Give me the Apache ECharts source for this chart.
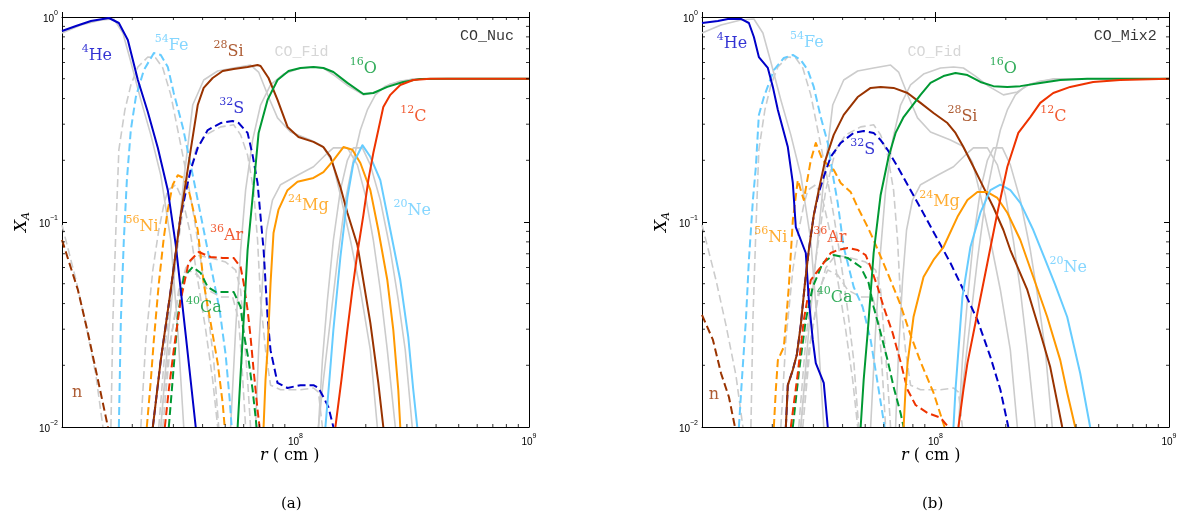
<!DOCTYPE html>
<html><head><meta charset="utf-8">
<script src="https://cdn.jsdelivr.net/npm/echarts@6/dist/echarts.min.js"></script>
<style>html,body{margin:0;padding:0;background:#fff}#c{width:1181px;height:517px}</style>
</head><body><div id="c"></div><script>
// ---------- DATA: [r (cm), X_A] ----------
// Panel (a) CO_Nuc
const He_a = [[1.0e7,0.855],[1.148e7,0.904],[1.33e7,0.956],[1.588e7,0.989],[1.752e7,0.935],[1.914e7,0.772],[2.113e7,0.493],[2.331e7,0.344],[2.572e7,0.23],[2.839e7,0.143],[3.07e7,0.0773],[3.388e7,0.0281],[3.738e7,0.01]];
const Fe_a = [[1.752e7,0.01],[1.787e7,0.0333],[1.84e7,0.0817],[1.896e7,0.16],[1.971e7,0.281],[2.071e7,0.407],[2.242e7,0.551],[2.474e7,0.667],[2.649e7,0.653],[2.839e7,0.57],[3.01e7,0.426],[3.289e7,0.291],[3.558e7,0.19],[3.813e7,0.128],[4.124e7,0.0817],[4.418e7,0.0551],[4.733e7,0.0372],[5.022e7,0.0225],[5.226e7,0.0136],[5.327e7,0.01]];
const Ni_a = [[2.308e7,0.01],[2.402e7,0.017],[2.474e7,0.0266],[2.599e7,0.0504],[2.731e7,0.0845],[2.839e7,0.115],[2.981e7,0.152],[3.132e7,0.169],[3.322e7,0.164],[3.49e7,0.143],[3.813e7,0.0914],[4.044e7,0.0504],[4.332e7,0.0322],[4.642e7,0.0205],[4.876e7,0.0131],[4.974e7,0.01]];
const Si_a = [[2.449e7,0.01],[2.649e7,0.0212],[2.923e7,0.0466],[3.225e7,0.108],[3.558e7,0.225],[3.813e7,0.372],[4.044e7,0.451],[4.418e7,0.504],[4.876e7,0.545],[5.434e7,0.558],[6.235e7,0.57],[6.879e7,0.583],[7.087e7,0.577],[7.666e7,0.504],[8.375e7,0.394],[9.244e7,0.291],[1.03e8,0.26],[1.194e8,0.246],[1.317e8,0.232],[1.411e8,0.208],[1.557e8,0.148],[1.668e8,0.111],[1.841e8,0.0773],[2.092e8,0.0322],[2.263e8,0.0164],[2.377e8,0.01]];
const S_a = [[2.449e7,0.01],[2.649e7,0.0212],[2.923e7,0.0466],[3.225e7,0.108],[3.558e7,0.18],[3.813e7,0.23],[4.208e7,0.281],[4.78e7,0.304],[5.38e7,0.311],[5.71e7,0.304],[6.235e7,0.272],[6.55e7,0.212],[6.879e7,0.155],[7.087e7,0.106],[7.302e7,0.073],[7.591e7,0.0344],[7.817e7,0.0237],[8.375e7,0.0164],[9.244e7,0.0155],[1.05e8,0.016],[1.194e8,0.016],[1.254e8,0.0155],[1.317e8,0.014],[1.384e8,0.0125],[1.453e8,0.01]];
const Ar_a = [[2.757e7,0.01],[2.867e7,0.0152],[3.01e7,0.0237],[3.225e7,0.0417],[3.49e7,0.0638],[3.851e7,0.0714],[4.332e7,0.0675],[4.876e7,0.0668],[5.434e7,0.0668],[5.82e7,0.0603],[5.998e7,0.0504],[6.235e7,0.0372],[6.42e7,0.0275],[6.614e7,0.019],[6.879e7,0.0121],[7.017e7,0.01]];
const Ca_a = [[2.867e7,0.01],[3.132e7,0.0344],[3.322e7,0.0539],[3.63e7,0.0603],[3.926e7,0.0564],[4.208e7,0.0482],[4.551e7,0.0456],[4.925e7,0.0456],[5.434e7,0.0456],[5.82e7,0.0385],[5.998e7,0.0288],[6.298e7,0.0212],[6.55e7,0.0152],[6.745e7,0.0112],[6.812e7,0.01]];
const O_a = [[5.652e7,0.01],[5.998e7,0.0333],[6.235e7,0.073],[6.614e7,0.148],[6.95e7,0.272],[7.591e7,0.394],[8.375e7,0.493],[9.335e7,0.545],[1.05e8,0.564],[1.194e8,0.57],[1.317e8,0.564],[1.453e8,0.539],[1.668e8,0.477],[1.953e8,0.421],[2.154e8,0.426],[2.473e8,0.456],[2.894e8,0.482],[3.422e8,0.499],[4.463e8,0.5],[1e9,0.5]];
const C_a = [[1.482e8,0.01],[1.573e8,0.017],[1.668e8,0.0298],[1.752e8,0.0466],[1.841e8,0.0706],[1.953e8,0.108],[2.051e8,0.16],[2.154e8,0.217],[2.263e8,0.281],[2.377e8,0.364],[2.547e8,0.417],[2.81e8,0.466],[3.194e8,0.493],[3.775e8,0.5],[1e9,0.5]];
const Mg_a = [[7.3e7,0.01],[7.44e7,0.017],[7.59e7,0.0237],[7.82e7,0.0504],[8.05e7,0.0884],[8.46e7,0.115],[9.24e7,0.143],[1.02e8,0.157],[1.194e8,0.164],[1.317e8,0.175],[1.453e8,0.2],[1.604e8,0.232],[1.752e8,0.225],[1.896e8,0.194],[2.092e8,0.143],[2.263e8,0.0914],[2.473e8,0.0521],[2.623e8,0.0298],[2.755e8,0.0152],[2.81e8,0.01]];
const Ne_a = [[1.343e8,0.01],[1.397e8,0.017],[1.453e8,0.0298],[1.557e8,0.0675],[1.668e8,0.132],[1.77e8,0.194],[1.934e8,0.237],[2.092e8,0.208],[2.308e8,0.16],[2.547e8,0.0914],[2.81e8,0.0521],[3.04e8,0.0275],[3.194e8,0.0152],[3.322e8,0.01]];
const n_a = [[1.0e7,0.0817],[1.17e7,0.0466],[1.291e7,0.0288],[1.425e7,0.017],[1.573e7,0.01]];

// Panel (b) CO_Mix2
const He_b = [[1.0e7,0.935],[1.17e7,0.956],[1.291e7,0.978],[1.468e7,0.978],[1.588e7,0.935],[1.668e7,0.799],[1.752e7,0.638],[1.914e7,0.564],[2.011e7,0.456],[2.113e7,0.352],[2.331e7,0.232],[2.449e7,0.155],[2.522e7,0.0945],[2.783e7,0.0706],[2.867e7,0.0417],[2.981e7,0.0266],[3.071e7,0.0205],[3.322e7,0.0164],[3.456e7,0.01]];
const Fe_b = [[1.439e7,0.01],[1.482e7,0.017],[1.542e7,0.0333],[1.588e7,0.0653],[1.652e7,0.128],[1.701e7,0.186],[1.752e7,0.333],[1.841e7,0.407],[2.031e7,0.551],[2.241e7,0.631],[2.449e7,0.653],[2.649e7,0.617],[2.838e7,0.551],[3.011e7,0.456],[3.225e7,0.325],[3.456e7,0.243],[3.665e7,0.16],[3.813e7,0.124],[4.045e7,0.0755],[4.463e7,0.0482],[4.876e7,0.0385],[5.275e7,0.0266],[5.65e7,0.0164],[6.054e7,0.01]];
const Ni_b = [[2.031e7,0.01],[2.071e7,0.0152],[2.113e7,0.0212],[2.242e7,0.0246],[2.354e7,0.0482],[2.449e7,0.102],[2.572e7,0.16],[2.729e7,0.128],[2.923e7,0.2],[3.071e7,0.243],[3.289e7,0.2],[3.665e7,0.18],[3.926e7,0.155],[4.333e7,0.14],[4.642e7,0.118],[5.122e7,0.0945],[5.433e7,0.0817],[6.235e7,0.0564],[7.086e7,0.0394],[7.818e7,0.0281],[8.627e7,0.0208],[9.806e7,0.0147],[1.093e8,0.01]];
const Si_b = [[2.286e7,0.01],[2.331e7,0.016],[2.449e7,0.019],[2.547e7,0.0225],[2.649e7,0.0315],[2.755e7,0.0493],[2.867e7,0.073],[3.011e7,0.108],[3.162e7,0.143],[3.355e7,0.196],[3.665e7,0.266],[4.045e7,0.333],[4.642e7,0.407],[5.275e7,0.451],[5.821e7,0.456],[6.614e7,0.451],[7.591e7,0.426],[8.627e7,0.381],[9.806e7,0.34],[1.125e8,0.304],[1.218e8,0.272],[1.317e8,0.232],[1.453e8,0.186],[1.604e8,0.148],[1.77e8,0.118],[1.953e8,0.0914],[2.092e8,0.073],[2.473e8,0.0466],[2.81e8,0.0288],[3.1e8,0.0196],[3.489e8,0.01]];
const S_b = [[2.286e7,0.01],[2.331e7,0.016],[2.449e7,0.019],[2.547e7,0.0225],[2.649e7,0.0315],[2.755e7,0.0493],[2.867e7,0.073],[3.011e7,0.108],[3.162e7,0.139],[3.322e7,0.166],[3.558e7,0.208],[3.926e7,0.243],[4.463e7,0.272],[4.925e7,0.278],[5.433e7,0.272],[5.821e7,0.251],[6.235e7,0.225],[6.879e7,0.186],[7.591e7,0.152],[8.627e7,0.117],[9.806e7,0.0894],[1.159e8,0.0631],[1.317e8,0.0466],[1.512e8,0.0333],[1.718e8,0.022],[1.896e8,0.0152],[2.051e8,0.01]];
const Ar_b = [[2.401e7,0.01],[2.572e7,0.0183],[2.729e7,0.0333],[2.923e7,0.0521],[3.225e7,0.0603],[3.558e7,0.0706],[3.813e7,0.073],[4.206e7,0.0747],[4.642e7,0.073],[5.022e7,0.069],[5.275e7,0.0603],[5.65e7,0.0482],[5.997e7,0.0385],[6.551e7,0.0288],[7.086e7,0.0208],[7.591e7,0.0152],[8.213e7,0.0128],[9.244e7,0.0117],[1.05e8,0.0111],[1.136e8,0.01]];
const Ca_b = [[2.449e7,0.01],[2.597e7,0.0183],[2.783e7,0.0333],[2.981e7,0.0482],[3.289e7,0.0631],[3.665e7,0.069],[4.206e7,0.0668],[4.781e7,0.0603],[5.172e7,0.0504],[5.433e7,0.0385],[5.821e7,0.0288],[6.235e7,0.0212],[6.614e7,0.0157],[7.086e7,0.0117],[7.302e7,0.01]];
const O_b = [[4.781e7,0.01],[4.925e7,0.017],[5.122e7,0.0288],[5.433e7,0.0706],[5.821e7,0.1355],[6.296e7,0.208],[6.746e7,0.272],[7.302e7,0.325],[8.627e7,0.417],[9.519e7,0.477],[1.082e8,0.515],[1.218e8,0.533],[1.37e8,0.521],[1.557e8,0.482],[1.77e8,0.46],[2.031e8,0.456],[2.308e8,0.46],[2.81e8,0.477],[3.422e8,0.493],[4.463e8,0.5],[1e9,0.5]];
const C_b = [[1.254e8,0.01],[1.317e8,0.0152],[1.37e8,0.0205],[1.512e8,0.036],[1.668e8,0.0631],[1.841e8,0.111],[2.031e8,0.186],[2.263e8,0.272],[2.547e8,0.325],[2.81e8,0.381],[3.194e8,0.426],[3.775e8,0.456],[4.734e8,0.482],[6.175e8,0.493],[1e9,0.5]];
const Mg_b = [[7.302e7,0.01],[7.44e7,0.0152],[7.591e7,0.0205],[8.05e7,0.0344],[8.886e7,0.0539],[9.806e7,0.0653],[1.082e8,0.0755],[1.242e8,0.106],[1.37e8,0.128],[1.512e8,0.14],[1.668e8,0.14],[1.841e8,0.131],[2.031e8,0.111],[2.308e8,0.0817],[2.623e8,0.0539],[3.01e8,0.0344],[3.422e8,0.0212],[3.665e8,0.0147],[3.965e8,0.01]];
const Ne_b = [[1.194e8,0.01],[1.218e8,0.0152],[1.242e8,0.0205],[1.304e8,0.0431],[1.411e8,0.0755],[1.557e8,0.111],[1.718e8,0.143],[1.896e8,0.152],[2.092e8,0.143],[2.308e8,0.124],[2.623e8,0.0914],[2.952e8,0.0653],[3.257e8,0.0493],[3.665e8,0.0344],[4.166e8,0.0183],[4.596e8,0.01]];
const n_b = [[1.0e7,0.0352],[1.114e7,0.0266],[1.206e7,0.0183],[1.304e7,0.014],[1.384e7,0.01]];

// Reference model CO_Fid (grey, same in both panels)
const gHe = [[1.0e7,0.835],[1.206e7,0.914],[1.468e7,0.967],[1.668e7,0.978],[1.823e7,0.835],[1.972e7,0.603],[2.176e7,0.394],[2.401e7,0.266],[2.649e7,0.169],[2.923e7,0.0817],[3.131e7,0.0298],[3.322e7,0.01]];
const gFe = [[1.62e7,0.01],[1.652e7,0.0333],[1.701e7,0.0914],[1.752e7,0.225],[1.859e7,0.352],[1.972e7,0.466],[2.113e7,0.57],[2.331e7,0.638],[2.521e7,0.631],[2.702e7,0.564],[2.923e7,0.417],[3.162e7,0.266],[3.421e7,0.169],[3.665e7,0.108],[3.926e7,0.0653],[4.206e7,0.0372],[4.463e7,0.0212],[4.688e7,0.01]];
const gNi = [[2.176e7,0.01],[2.286e7,0.0266],[2.449e7,0.0583],[2.597e7,0.0914],[2.729e7,0.121],[2.838e7,0.143],[3.071e7,0.152],[3.289e7,0.128],[3.558e7,0.0865],[3.813e7,0.0521],[4.124e7,0.0298],[4.418e7,0.017],[4.642e7,0.01]];
const gSi = [[2.649e7,0.01],[2.866e7,0.0298],[3.101e7,0.073],[3.322e7,0.16],[3.629e7,0.372],[4.045e7,0.493],[4.642e7,0.545],[5.433e7,0.564],[6.423e7,0.583],[6.95e7,0.539],[7.666e7,0.407],[8.376e7,0.322],[9.519e7,0.275],[1.159e8,0.251],[1.304e8,0.235],[1.439e8,0.196],[1.557e8,0.1355],[1.718e8,0.0817],[1.896e8,0.0466],[2.092e8,0.0237],[2.241e8,0.01]];
const gS = [[2.597e7,0.01],[2.783e7,0.0266],[3.071e7,0.0653],[3.388e7,0.143],[3.738e7,0.225],[4.124e7,0.266],[4.781e7,0.291],[5.433e7,0.298],[5.821e7,0.266],[6.235e7,0.212],[6.614e7,0.143],[6.879e7,0.0817],[7.086e7,0.0417],[7.44e7,0.0237],[7.818e7,0.016],[8.627e7,0.0152],[1.05e8,0.0152],[1.194e8,0.0155],[1.254e8,0.0148],[1.279e8,0.0121],[1.304e8,0.01]];
const gAr = [[2.649e7,0.01],[2.866e7,0.0237],[3.131e7,0.0417],[3.388e7,0.0597],[3.738e7,0.069],[4.333e7,0.0668],[5.022e7,0.0638],[5.541e7,0.0583],[5.821e7,0.0466],[5.998e7,0.0298],[6.235e7,0.017],[6.42e7,0.01]];
const gCa = [[2.702e7,0.01],[2.923e7,0.0266],[3.162e7,0.0466],[3.455e7,0.0583],[3.813e7,0.0551],[4.206e7,0.0466],[4.781e7,0.0431],[5.38e7,0.0431],[5.706e7,0.0333],[5.877e7,0.0212],[6.114e7,0.01]];
const gO = [[5.275e7,0.01],[5.541e7,0.0298],[5.821e7,0.073],[6.114e7,0.143],[6.551e7,0.251],[7.086e7,0.372],[7.818e7,0.466],[8.886e7,0.527],[1.05e8,0.564],[1.194e8,0.57],[1.317e8,0.564],[1.482e8,0.515],[1.685e8,0.46],[1.953e8,0.417],[2.241e8,0.431],[2.547e8,0.471],[3.194e8,0.5],[4.166e8,0.5],[1e9,0.5]];
const gC = [[1.254e8,0.01],[1.317e8,0.017],[1.411e8,0.0333],[1.512e8,0.0653],[1.636e8,0.128],[1.77e8,0.2],[1.896e8,0.281],[2.031e8,0.352],[2.198e8,0.417],[2.425e8,0.46],[2.81e8,0.487],[3.422e8,0.5],[1e9,0.5]];
const gMg = [[6.746e7,0.01],[6.95e7,0.0237],[7.228e7,0.0521],[7.517e7,0.0914],[7.97e7,0.128],[8.627e7,0.152],[1.02e8,0.169],[1.194e8,0.186],[1.37e8,0.217],[1.453e8,0.23],[1.668e8,0.23],[1.841e8,0.19],[1.991e8,0.1355],[2.154e8,0.0817],[2.308e8,0.0466],[2.473e8,0.0237],[2.676e8,0.01]];
const gNe = [[1.254e8,0.01],[1.304e8,0.0212],[1.37e8,0.0417],[1.453e8,0.0817],[1.557e8,0.143],[1.668e8,0.2],[1.77e8,0.23],[1.934e8,0.23],[2.092e8,0.19],[2.308e8,0.128],[2.547e8,0.073],[2.755e8,0.0417],[2.952e8,0.0237],[3.162e8,0.01]];
const gn = [[1.0e7,0.0967],[1.148e7,0.0521],[1.266e7,0.0315],[1.397e7,0.0179],[1.497e7,0.01]];

// Labels: [r, X, mass, symbol, colourKey]
const labels_a = [[1.41e7,0.66,'4','He','blue'],[2.95e7,0.739,'54','Fe','sky'],[5.17e7,0.69,'28','Si','brown'],[1.953e8,0.57,'16','O','green'],[3.194e8,0.333,'12','C','red'],[5.33e7,0.364,'32','S','blue'],[2.2e7,0.0967,'56','Ni','orange'],[5.07e7,0.0874,'36','Ar','red'],[4.05e7,0.0389,'40','Ca','green'],[1.136e8,0.1224,'24','Mg','orange'],[3.162e8,0.1157,'20','Ne','sky'],[1.16e7,0.015,'','n','brown']];
const labels_b = [[1.343e7,0.755,'4','He','blue'],[2.81e7,0.764,'54','Fe','sky'],[1.953e8,0.57,'16','O','green'],[1.304e8,0.333,'28','Si','brown'],[3.194e8,0.333,'12','C','red'],[4.876e7,0.23,'32','S','blue'],[1.04e8,0.128,'24','Mg','orange'],[3.7e8,0.061,'20','Ne','sky'],[1.972e7,0.0854,'56','Ni','orange'],[3.524e7,0.0854,'36','Ar','red'],[3.7e7,0.0436,'40','Ca','green'],[1.125e7,0.0147,'','n','brown']];
const modelLabels_a = [[1.061e8,0.675,'CO_Fid','gray'],[6.61e8,0.808,'CO_Nuc','black']];
const modelLabels_b = [[9.9e7,0.675,'CO_Fid','gray'],[6.49e8,0.808,'CO_Mix2','black']];

// Axis ticks / labels
const xRange = [1e7, 1e9];
const yRange = [0.01, 1];
const xLabelVals = [1e8, 1e9];
const yLabelVals = [0.01, 0.1, 1];
const minorMult = [2,3,4,5,6,7,8,9];
const xDecades = [1e7, 1e8];
const yDecades = [0.01, 0.1];

// ---------- STYLE ----------
const C = {blue:'#0000c8', sky:'#66ccff', brown:'#993300', green:'#009933', red:'#ee3300', orange:'#ff9900', gray:'#cccccc', black:'#000000'};
const L = Math.log10;
const xMinor = [], yMinor = [];
xDecades.forEach(d => minorMult.forEach(m => xMinor.push(m*d)));
yDecades.forEach(d => minorMult.forEach(m => yMinor.push(m*d)));

function expFmt(v){ const e = Math.round(v); return '{b|10}{s|' + (e < 0 ? '\u2212' + (-e) : e) + '}'; }
const tickRich = {
  b:{fontSize:10, fontFamily:'Liberation Sans', color:'#000', padding:[4,0,0,0]},
  s:{fontSize:7, fontFamily:'Liberation Sans', color:'#000', verticalAlign:'top'}
};

const grids = [{left:62, right:652, top:17, bottom:90}, {left:702, right:12, top:17, bottom:90}];
const xAxes = [], yAxes = [];
grids.forEach((g, gi) => {
  const off = {show:false};
  const base = {gridIndex:gi, splitLine:off, silent:true, axisPointer:{show:false}};
  const line = {show:true, onZero:false, lineStyle:{color:'#000', width:1}};
  const tick = {show:true, inside:true, length:5, lineStyle:{color:'#000', width:1}};
  // x: data (log) axis, bottom labels/major ticks, top frame/major ticks
  xAxes.push({...base, type:'log', logBase:10, min:xRange[0], max:xRange[1], position:'bottom', axisLine:line, axisTick:off, axisLabel:off});
  xAxes.push({...base, type:'value', min:L(xRange[0]), max:L(xRange[1]), interval:1, position:'bottom', axisLine:off, axisTick:tick,
    axisLabel:{show:true, customValues:xLabelVals.map(L), formatter:expFmt, rich:tickRich, margin:6, showMaxLabel:true, showMinLabel:true}});
  xAxes.push({...base, type:'value', min:L(xRange[0]), max:L(xRange[1]), interval:1, position:'top', axisLine:line, axisTick:tick, axisLabel:off});
  // y
  yAxes.push({...base, type:'log', logBase:10, min:yRange[0], max:yRange[1], position:'left', axisLine:line, axisTick:off, axisLabel:off});
  yAxes.push({...base, type:'value', min:L(yRange[0]), max:L(yRange[1]), interval:1, position:'left', axisLine:off, axisTick:tick,
    axisLabel:{show:true, customValues:yLabelVals.map(L), formatter:expFmt, rich:tickRich, margin:4, showMaxLabel:true, showMinLabel:true}});
  yAxes.push({...base, type:'value', min:L(yRange[0]), max:L(yRange[1]), interval:1, position:'right', axisLine:line, axisTick:tick, axisLabel:off});
});

const DASH = [8,4];
function lineS(data, gi, color, dashed, width, z){
  return {type:'line', data, xAxisIndex:gi*3, yAxisIndex:gi*3, showSymbol:false, symbol:'none', silent:true, animation:false, z,
    clip:true, lineStyle:{color, width, type: dashed ? DASH : 'solid', cap:'butt', join:'round'}};
}
function tickS(data, gi, size, offset){
  return {type:'scatter', data, xAxisIndex:gi*3, yAxisIndex:gi*3, symbol:'rect', symbolSize:size, symbolOffset:offset,
    itemStyle:{color:'#000'}, silent:true, animation:false, clip:false, z:6};
}
const greys = [[gHe,false],[gFe,true],[gNi,true],[gSi,false],[gS,true],[gAr,true],[gCa,true],[gO,false],[gC,false],[gMg,false],[gNe,false],[gn,true]];
const coloured = [
  [n_a, n_b, 'brown', true], [Fe_a, Fe_b, 'sky', true], [Ni_a, Ni_b, 'orange', true], [Ca_a, Ca_b, 'green', true],
  [Ar_a, Ar_b, 'red', true], [S_a, S_b, 'blue', true], [He_a, He_b, 'blue', false], [Si_a, Si_b, 'brown', false],
  [O_a, O_b, 'green', false], [Mg_a, Mg_b, 'orange', false], [Ne_a, Ne_b, 'sky', false], [C_a, C_b, 'red', false]
];
const series = [];
[0,1].forEach(gi => {
  greys.forEach(([d, dash]) => series.push(lineS(d, gi, C.gray, dash, 1.6, 2)));
  coloured.forEach(([a, b, col, dash]) => series.push(lineS(gi === 0 ? a : b, gi, C[col], dash, 2, 3)));
  // minor ticks on all four sides
  series.push(tickS(xMinor.map(v => [v, yRange[0]]), gi, [1,3], [0,-1.5]));
  series.push(tickS(xMinor.map(v => [v, yRange[1]]), gi, [1,3], [0,1.5]));
  series.push(tickS(yMinor.map(v => [xRange[0], v]), gi, [3,1], [1.5,0]));
  series.push(tickS(yMinor.map(v => [xRange[1], v]), gi, [3,1], [-1.5,0]));
  const iso = gi === 0 ? labels_a : labels_b;
  const mod = gi === 0 ? modelLabels_a : modelLabels_b;
  const items = iso.map(([r, x, m, sym, col]) => ({value:[r, x], label:{
      formatter: (m ? '{s|' + m + '}' : '') + '{b|' + sym + '}',
      rich:{s:{fontSize:11, fontFamily:'DejaVu Serif', color:C[col], verticalAlign:'top'}, b:{fontSize:16, fontFamily:'DejaVu Serif', color:C[col], padding:[4,0,0,0]}}
    }}));
  mod.forEach(([r, x, t, col]) => items.push({value:[r, x], label:{formatter:t, fontSize:15, fontFamily:'Liberation Mono', color:C[col]}}));
  series.push({type:'scatter', xAxisIndex:gi*3, yAxisIndex:gi*3, data:items, symbolSize:0, silent:true, animation:false, z:5,
    label:{show:true, position:'inside'}});
});

const graphic = [];
[[294, 'a'], [935, 'b']].forEach(([cx, tag]) => {
  graphic.push({type:'text', left:cx - 34, top:448, style:{text:'{i|r} ( cm )', fill:'#000', font:'16px "DejaVu Serif"',
    rich:{i:{fontStyle:'italic', fontFamily:'DejaVu Serif', fontSize:16}}}});
  graphic.push({type:'text', left:cx - 13, top:497, style:{text:'(' + tag + ')', fill:'#000', font:'15px "DejaVu Serif"'}});
});
[22, 662].forEach(cx => {
  graphic.push({type:'text', x:cx, y:222, rotation:Math.PI/2, style:{text:'{i|X}{s|A}', align:'center', verticalAlign:'middle', fill:'#000',
    rich:{i:{fontStyle:'italic', fontFamily:'DejaVu Serif', fontSize:17}, s:{fontStyle:'italic', fontFamily:'DejaVu Serif', fontSize:11, padding:[9,0,0,0]}}}});
});

const chart = echarts.init(document.getElementById('c'));
chart.setOption({animation:false, backgroundColor:'#fff', grid:grids, xAxis:xAxes, yAxis:yAxes, series, graphic});
</script></body></html>
